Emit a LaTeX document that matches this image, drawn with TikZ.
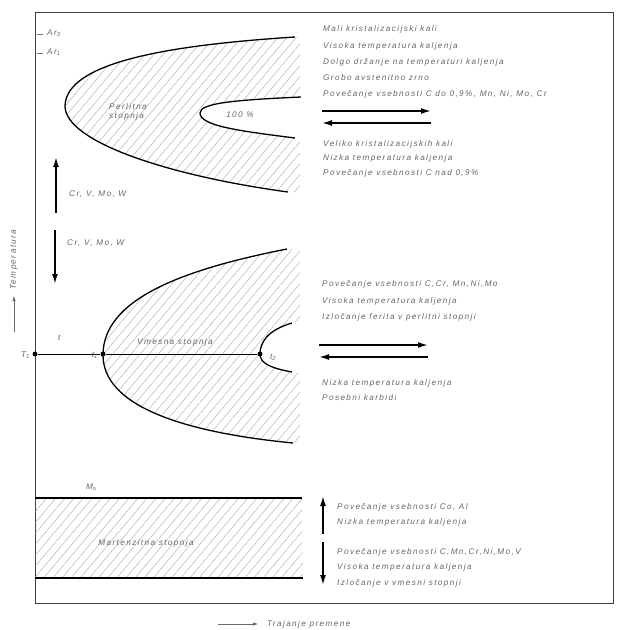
\documentclass[tikz,border=0pt]{standalone}
\usepackage{fontspec}
\newfontfamily\labfont[LetterSpace=17]{Liberation Sans}
\usetikzlibrary{patterns.meta,arrows.meta}
\begin{document}
\begin{tikzpicture}[x=1pt,y=-1pt,
  lab/.style={font=\labfont\itshape\fontsize{8.2}{9}\selectfont, text=black!60, inner sep=0pt, anchor=west},
  curve/.style={line width=1.3pt, black},
  frame/.style={line width=0.9pt, black!75},
  hatch/.style={pattern={Lines[angle=50,distance=7pt,line width=0.35pt]}, pattern color=black!38},
  bigarrow/.style={line width=1.6pt, -{Latex[length=10pt,width=6pt]}},
  dotn/.style={circle, fill=black, inner sep=0pt, minimum size=5pt}]
\useasboundingbox (0,0) rectangle (618,630);
% frame
\coordinate (TL) at (35,12);
\coordinate (TR) at (613,12);
\coordinate (BR) at (613,603);
\coordinate (BL) at (35,603);
\draw[frame] (TL) -- (TR) -- (BR) -- (BL) -- cycle;
% Ar ticks
\coordinate (ar3a) at (37,34); \coordinate (ar3b) at (43,34);
\coordinate (ar1a) at (37,53); \coordinate (ar1b) at (43,53);
\draw[black!55, line width=0.6pt] (ar3a) -- (ar3b) (ar1a) -- (ar1b);
\node[lab] (ar3) at (47,33) {Ar\textsubscript{3}};
\node[lab] (ar1) at (47,52) {Ar\textsubscript{1}};
% upper (pearlite) region
\fill[hatch, even odd rule]
  (295,37) .. controls (170,45) and (66,62) .. (65,106) .. controls (65,142) and (170,176) .. (288,192) -- (300,192) -- (300,37) -- cycle
  (300,97) .. controls (235,100) and (200,103) .. (200,113) .. controls (200,126) and (240,131) .. (295,138) -- (300,138) -- cycle;
\draw[curve] (295,37) .. controls (170,45) and (66,62) .. (65,106) .. controls (65,142) and (170,176) .. (288,192);
\draw[curve] (301,97) .. controls (235,100) and (200,103) .. (200,113) .. controls (200,126) and (240,131) .. (295,138);
\node[lab, anchor=center, align=left] (perlit) at (128,112) {Perlitna\\stopnja};
\node[lab, anchor=center] (p100) at (240,115) {100 \%};
% left arrows
\coordinate (u1) at (56,213); \coordinate (u2) at (56,157);
\draw[bigarrow] (u1) -- (u2);
\node[lab] (crup) at (69,194) {Cr, V, Mo, W};
\coordinate (d1) at (55,230); \coordinate (d2) at (55,284);
\draw[bigarrow] (d1) -- (d2);
\node[lab] (crdn) at (67,243) {Cr, V, Mo, W};
% temperature axis label
\coordinate (ta1) at (14,332); \coordinate (ta2) at (14,296);
\draw[line width=0.6pt, black!60, -{Latex[length=5pt,width=3.5pt]}] (ta1) -- (ta2);
\node[lab, rotate=90, anchor=west] (temp) at (14,290) {Temperatura};
% middle (bainite) region
\fill[hatch, even odd rule]
  (287,249) .. controls (180,270) and (103,300) .. (103,355) .. controls (103,405) and (180,432) .. (293,443) -- (300,443) -- (300,249) -- cycle
  (300,321) .. controls (268,330) and (260,342) .. (260,354) .. controls (260,363) and (270,368) .. (292,372) -- (300,373) -- cycle;
\draw[curve] (287,249) .. controls (180,270) and (103,300) .. (103,355) .. controls (103,405) and (180,432) .. (293,443);
\draw[curve] (292,323) .. controls (268,330) and (260,342) .. (260,354) .. controls (260,363) and (270,368) .. (292,372);
\node[dotn] (T1) at (35,354) {};
\node[dotn] (t1) at (103,354) {};
\node[dotn] (t2) at (260,354) {};
\draw[line width=1pt] (T1) -- (t1) -- (t2);
\node[lab, anchor=east] (T1l) at (30,355) {T\textsubscript{1}};
\node[lab, anchor=east] (t1l) at (98,355) {t\textsubscript{1}};
\node[lab] (t2l) at (270,357) {t\textsubscript{2}};
\node[lab] (tl) at (58,338) {t};
\node[lab, anchor=center] (vmes) at (175,342) {Vmesna stopnja};
% martensite band
\coordinate (ms1) at (35,498); \coordinate (ms2) at (302,498);
\coordinate (mb1) at (35,578); \coordinate (mb2) at (303,578);
\fill[hatch] (ms1) -- (ms2) -- (mb2) -- (mb1) -- cycle;
\draw[curve] (ms1) -- (ms2);
\draw[curve] (mb1) -- (mb2);
\node[lab] (msl) at (86,487) {M\textsubscript{s}};
\node[lab, anchor=center] (mart) at (146,543) {Martenzitna stopnja};
% right texts: top block
\node[lab] (a1) at (323,29) {Mali kristalizacijski kali};
\node[lab] (a2) at (323,46) {Visoka temperatura kaljenja};
\node[lab] (a3) at (323,62) {Dolgo držanje na temperaturi kaljenja};
\node[lab] (a4) at (323,78) {Grobo avstenitno zrno};
\node[lab] (a5) at (323,94) {Povečanje vsebnosti  C do 0,9\%, Mn, Ni, Mo, Cr};
\coordinate (ar1s) at (322,111); \coordinate (ar1e) at (431,111);
\coordinate (ar2s) at (431,123); \coordinate (ar2e) at (322,123);
\draw[bigarrow] (ar1s) -- (ar1e);
\draw[bigarrow] (ar2s) -- (ar2e);
\node[lab] (a6) at (323,144) {Veliko kristalizacijskih kali};
\node[lab] (a7) at (323,158) {Nizka temperatura kaljenja};
\node[lab] (a8) at (323,173) {Povečanje vsebnosti  C nad 0,9\%};
% right texts: middle block
\node[lab] (b1) at (322,284) {Povečanje vsebnosti  C,Cr, Mn,Ni,Mo};
\node[lab] (b2) at (322,301) {Visoka temperatura kaljenja};
\node[lab] (b3) at (322,317) {Izločanje ferita v perlitni stopnji};
\coordinate (br1s) at (319,345); \coordinate (br1e) at (428,345);
\coordinate (br2s) at (428,357); \coordinate (br2e) at (319,357);
\draw[bigarrow] (br1s) -- (br1e);
\draw[bigarrow] (br2s) -- (br2e);
\node[lab] (b4) at (322,383) {Nizka temperatura kaljenja};
\node[lab] (b5) at (322,398) {Posebni karbidi};
% right texts: bottom block
\coordinate (cu1) at (323,534); \coordinate (cu2) at (323,496);
\draw[bigarrow] (cu1) -- (cu2);
\coordinate (cd1) at (323,542); \coordinate (cd2) at (323,585);
\draw[bigarrow] (cd1) -- (cd2);
\node[lab] (c1) at (337,507) {Povečanje vsebnosti  Co, Al};
\node[lab] (c2) at (337,522) {Nizka temperatura kaljenja};
\node[lab] (c3) at (337,552) {Povečanje vsebnosti  C,Mn,Cr,Ni,Mo,V};
\node[lab] (c4) at (337,567) {Visoka temperatura kaljenja};
\node[lab] (c5) at (337,583) {Izločanje v vmesni stopnji};
% time axis label
\coordinate (tx1) at (218,624); \coordinate (tx2) at (258,624);
\draw[line width=0.6pt, black!60, -{Latex[length=5pt,width=3.5pt]}] (tx1) -- (tx2);
\node[lab] (traj) at (267,624) {Trajanje premene};
\end{tikzpicture}
\end{document}
